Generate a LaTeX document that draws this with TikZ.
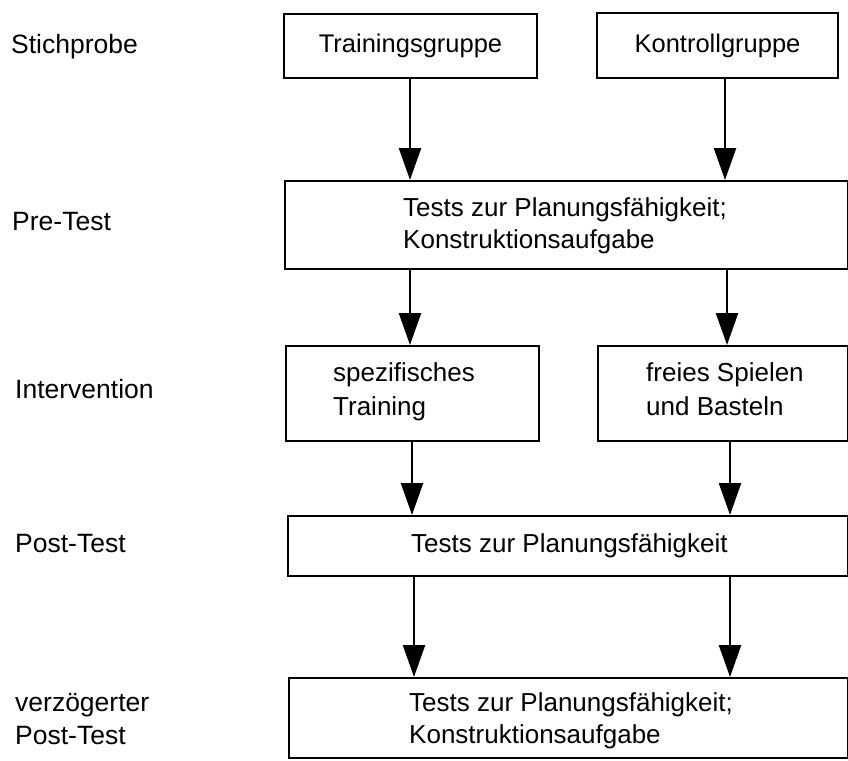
\documentclass[tikz,border=0pt]{standalone}
\usepackage{fontspec}
\setmainfont{Liberation Sans}
\usetikzlibrary{arrows.meta}
\begin{document}
\begin{tikzpicture}[x=1pt,y=-1pt,
  box/.style={draw, line width=1.8pt, rectangle, inner sep=0pt},
  boxtext/.style={anchor=west, inner sep=0pt, align=left,
    font=\fontsize{26}{32}\selectfont},
  lbl/.style={anchor=west, inner sep=0pt, align=left,
    font=\fontsize{26.5}{33}\selectfont},
  arr/.style={line width=2.4pt, -{Triangle[width=22pt,length=32pt]}}]
\useasboundingbox (0,0) rectangle (848,760);

% row labels
\node[lbl] (l1) at (11,47) {Stichprobe};
\node[lbl] (l2) at (12,222) {Pre-Test};
\node[lbl] (l3) at (15,389) {Intervention};
\node[lbl] (l4) at (15,544) {Post-Test};
\node[lbl] (l5) at (15,719) {verzögerter\\Post-Test};

% groups
\node[box, minimum width=253pt, minimum height=64pt,
  font=\fontsize{25.5}{32}\selectfont]
  (tg) at (410.5,46) {Trainingsgruppe};
\node[box, minimum width=241pt, minimum height=65pt,
  font=\fontsize{25.5}{32}\selectfont]
  (kg) at (717.5,45.5) {Kontrollgruppe};

% frames of the stage boxes
\node[box, anchor=north west, minimum width=563pt, minimum height=88pt]
  (pre) at (284,180) {};
\node[box, anchor=north west, minimum width=253pt, minimum height=95pt]
  (spez) at (285,345) {};
\node[box, anchor=north west, minimum width=250pt, minimum height=95pt]
  (frei) at (597,345) {};
\node[box, anchor=north west, minimum width=560pt, minimum height=60pt]
  (post) at (287,515) {};
\node[box, anchor=north west, minimum width=559pt, minimum height=80pt]
  (del) at (288,677) {};

% texts of the stage boxes
\node[boxtext] (pret) at (403,226)
  {Tests zur Planungsfähigkeit;\\Konstruktionsaufgabe};
\node[boxtext, font=\fontsize{26}{34}\selectfont] (spezt) at (333,392)
  {spezifisches\\Training};
\node[boxtext, font=\fontsize{26}{34}\selectfont] (freit) at (646,389)
  {freies Spielen\\und Basteln};
\node[boxtext] (postt) at (411,546) {Tests zur Planungsfähigkeit};
\node[boxtext] (delt) at (409,721)
  {Tests zur Planungsfähigkeit;\\Konstruktionsaufgabe};

% connectors
\coordinate (cl1) at (410,0);
\coordinate (cr1) at (725,0);
\coordinate (cl2) at (410,0);
\coordinate (cr2) at (727,0);
\coordinate (cl3) at (412,0);
\coordinate (cr3) at (730,0);
\coordinate (cl4) at (414,0);
\coordinate (cr4) at (730,0);

\draw[arr] (tg.south -| cl1) -- (pre.north -| cl1);
\draw[arr] (kg.south -| cr1) -- (pre.north -| cr1);
\draw[arr] (pre.south -| cl2) -- (spez.north -| cl2);
\draw[arr] (pre.south -| cr2) -- (frei.north -| cr2);
\draw[arr] (spez.south -| cl3) -- (post.north -| cl3);
\draw[arr] (frei.south -| cr3) -- (post.north -| cr3);
\draw[arr] (post.south -| cl4) -- (del.north -| cl4);
\draw[arr] (post.south -| cr4) -- (del.north -| cr4);
\end{tikzpicture}
\end{document}
